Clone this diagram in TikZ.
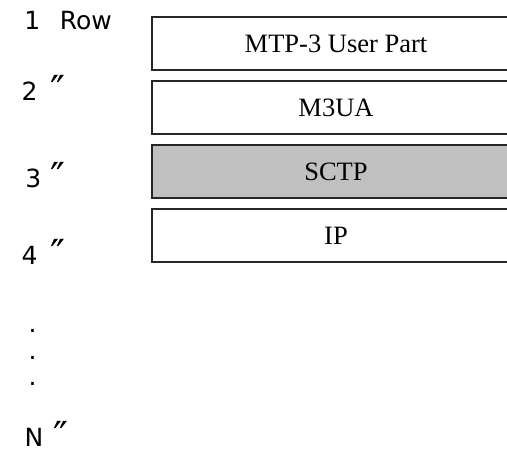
\documentclass[tikz,border=0pt]{standalone}
\usepackage{fontspec}
\setmainfont{Liberation Serif}
\newfontfamily\labelfont{DejaVu Sans}
\definecolor{sctpgray}{RGB}{192,192,192}
\newcommand{\dittomark}{\smash{\raisebox{-3.5pt}{\scalebox{1.6}{″}}}}
\begin{document}
\begin{tikzpicture}[x=1pt,y=-1pt,
  layerbox/.style={draw=black!85, line width=1.5pt, minimum width=368pt, minimum height=53pt,
    inner sep=0pt, font=\fontsize{26.5}{30}\selectfont, anchor=center},
  rowlab/.style={font=\labelfont\fontsize{25}{28}\selectfont, anchor=base west, inner sep=0pt},
  dotlab/.style={rowlab, text height=5pt, text depth=0pt}]
\clip (0,0) rectangle (507,454);
\fill[white] (0,0) rectangle (507,454);
\node[layerbox] (mtp) at (336,43.5) {MTP-3 User Part};
\node[layerbox] (m3ua) at (336,107.5) {M3UA};
\node[layerbox, fill=sctpgray] (sctp) at (336,171.5) {SCTP};
\node[layerbox] (ip) at (336,235.5) {IP};
\node[rowlab] (r1) at (24.2,29.3) {1\hspace{19.5pt}Row};
\node[rowlab] (r2) at (21.3,101) {2\hspace{13pt}\dittomark};
\node[rowlab] (r3) at (25.2,188) {3\hspace{9.5pt}\dittomark};
\node[rowlab] (r4) at (21.3,265) {4\hspace{13pt}\dittomark};
\node[dotlab] (d1) at (28.5,333) {.};
\node[dotlab] (d2) at (28.5,360) {.};
\node[dotlab] (d3) at (28.5,385.5) {.};
\node[rowlab, text depth=0pt] (rn) at (24.5,447) {N\hspace{10pt}\dittomark};
\end{tikzpicture}
\end{document}
